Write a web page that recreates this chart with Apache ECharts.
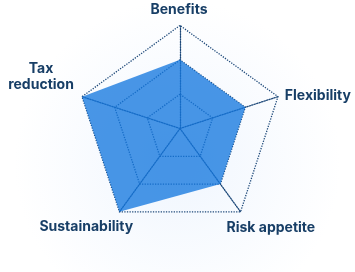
<!DOCTYPE html>
<html>
<head>
<meta charset="utf-8">
<script src="https://cdn.jsdelivr.net/npm/echarts@6/dist/echarts.min.js"></script>
<style>
html,body{margin:0;padding:0;background:#fff;}
#c{width:355px;height:272px;}
</style>
</head>
<body>
<div id="c"></div>
<script>
// indicator order is counter-clockwise from the top (ECharts default)
const indicatorNames = ['Benefits', 'Tax reduction', 'Sustainability', 'Risk appetite', 'Flexibility'];
const indicatorMax = 3;
const seriesValues = [2, 3, 3, 2, 2];

const labelKeys = { 'Benefits': 'b', 'Tax reduction': 't', 'Sustainability': 's', 'Risk appetite': 'r', 'Flexibility': 'f' };

const base = { fontFamily: 'Inter', fontWeight: 700, fontSize: 14, lineHeight: 16, color: '#173e66', align: 'center' };
const rich = {
  b: Object.assign({}, base, { padding: [0, 2, 0, 0] }),
  f: Object.assign({}, base, { padding: [7.6, 0, 0, 49.4] }),
  r: Object.assign({}, base, { padding: [6.8, 0, 0, 41.8] }),
  s: Object.assign({}, base, { padding: [4.8, 47.6, 0, 0] }),
  t: Object.assign({}, base, { padding: [0, 51.6, 30.4, 0] })
};

const chart = echarts.init(document.getElementById('c'), null, { renderer: 'canvas' });
chart.setOption({
  backgroundColor: {
    type: 'radial', x: 0.5, y: 0.6, r: 0.6,
    colorStops: [{ offset: 0, color: '#f0f6fe' }, { offset: 1, color: '#ffffff' }]
  },
  animation: false,
  radar: {
    center: [180, 128.5],
    radius: 103,
    splitNumber: 3,
    nameGap: 16,
    indicator: indicatorNames.map(n => ({ name: n, max: indicatorMax, min: 0 })),
    axisName: {
      align: 'center',
      verticalAlign: 'middle',
      formatter: function (name) {
        const k = labelKeys[name];
        if (k === 't') {
          const parts = name.split(' ');
          return '{t|' + parts[0] + '}\n{t|' + parts[1] + '}';
        }
        return '{' + k + '|' + name + '}';
      },
      rich: rich
    },
    splitArea: { show: false },
    splitLine: { lineStyle: { color: '#1f4a7a', type: 'dotted', width: 1.3 } },
    axisLine: { lineStyle: { color: '#1f4a7a', type: 'dotted', width: 1.3 } },
    axisTick: { show: false },
    axisLabel: { show: false }
  },
  series: [{
    type: 'radar',
    symbol: 'none',
    lineStyle: { width: 0 },
    areaStyle: { color: 'rgba(18,118,222,0.77)', opacity: 1 },
    data: [{ value: seriesValues, name: 'Score' }]
  }]
});
</script>
</body>
</html>
